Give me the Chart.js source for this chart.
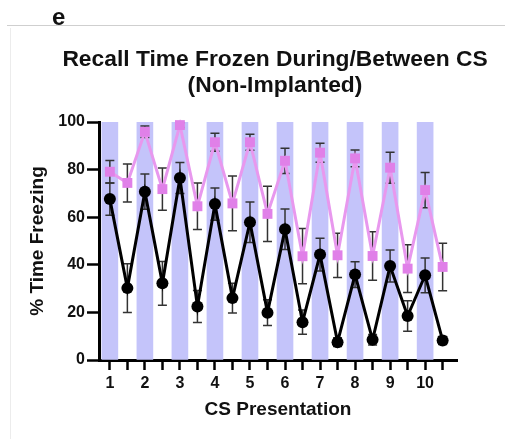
<!DOCTYPE html>
<html>
<head>
<meta charset="utf-8">
<script src="https://cdn.jsdelivr.net/npm/chart.js@4.4.1/dist/chart.umd.min.js"></script>
<style>
  html, body { margin: 0; padding: 0; background: #fff; }
  #wrap { position: relative; width: 505px; height: 439px; overflow: hidden; }
  #panel { position: absolute; left: 0; top: 0; }
  #tag { position: absolute; left: 52px; top: 5px; font: bold 24px "Liberation Sans", Arial, sans-serif; line-height: 24px; color: #111; }
  #title { position: absolute; left: 25px; width: 500px; top: 45px; text-align: center; white-space: nowrap;
           font: bold 22.8px "Liberation Sans", Arial, sans-serif; line-height: 26px; color: #111; }
  #rule { position: absolute; left: 7px; right: 0; top: 25px; height: 0; border-top: 1px solid #cfcfcf; }
  #edge { position: absolute; left: 10px; top: 28px; bottom: 0; width: 0; border-left: 1px solid #ececec; }
</style>
</head>
<body>
<div id="wrap">
  <canvas id="panel" width="505" height="439"></canvas>
  <div id="rule"></div>
  <div id="edge"></div>
  <div id="tag">e</div>
  <div id="title">Recall Time Frozen During/Between CS<br>(Non-Implanted)</div>
</div>
<script>
// ---- data ----
const timePoints = [1, 1.5, 2, 2.5, 3, 3.5, 4, 4.5, 5, 5.5, 6, 6.5, 7, 7.5, 8, 8.5, 9, 9.5, 10, 10.5];
const csPositions = [1, 2, 3, 4, 5, 6, 7, 8, 9, 10];
const csBarValues = [100, 100, 100, 100, 100, 100, 100, 100, 100, 100];
const tickLabels = ['1', '2', '3', '4', '5', '6', '7', '8', '9', '10'];
const yTicks = [0, 20, 40, 60, 80, 100];

const blackMean = [67.6, 30.2, 70.7, 32.2, 76.5, 22.5, 65.5, 26.0, 57.9, 19.9, 54.9, 15.9, 44.3, 7.5, 35.9, 8.5, 39.5, 18.5, 35.6, 8.2];
const blackSem  = [6.8, 10.2, 7.4, 9.2, 6.5, 6.7, 6.8, 6.3, 8.5, 5.4, 8.5, 5.1, 6.9, 1.8, 5.4, 2.2, 6.7, 6.4, 7.3, 1.7];
const pinkMean  = [79.1, 74.4, 95.9, 71.8, 98.7, 64.6, 91.5, 65.8, 91.5, 61.4, 83.7, 43.6, 87.1, 44.0, 84.7, 43.7, 80.8, 38.4, 71.4, 39.1];
const pinkSem   = [4.7, 8.0, 2.4, 8.9, 1.0, 9.8, 3.8, 11.5, 3.4, 11.6, 5.3, 11.6, 4.0, 9.3, 3.5, 10.2, 6.5, 10.0, 7.4, 10.0];

const FONT = '"Liberation Sans", Arial, sans-serif';

const barData = csPositions.map((x, i) => ({ x: x, y: csBarValues[i] }));
const blackData = timePoints.map((x, i) => ({ x: x, y: blackMean[i] }));
const pinkData = timePoints.map((x, i) => ({ x: x, y: pinkMean[i] }));

const errorBarPlugin = {
  id: 'errorBars',
  afterDatasetDraw(chart, args) {
    if (args.index !== 0) return; // right after the CS bars, beneath the lines
    const ctx = chart.ctx;
    const xs = chart.scales.x, ys = chart.scales.y;
    const groups = [[pinkMean, pinkSem], [blackMean, blackSem]];
    ctx.save();
    ctx.strokeStyle = '#333';
    ctx.lineWidth = 1.5;
    groups.forEach(([m, s]) => {
      timePoints.forEach((t, i) => {
        const px = xs.getPixelForValue(t);
        const top = ys.getPixelForValue(m[i] + s[i]);
        const bot = ys.getPixelForValue(m[i] - s[i]);
        ctx.beginPath();
        ctx.moveTo(px, top); ctx.lineTo(px, bot);
        ctx.moveTo(px - 4.5, top); ctx.lineTo(px + 4.5, top);
        ctx.moveTo(px - 4.5, bot); ctx.lineTo(px + 4.5, bot);
        ctx.stroke();
      });
    });
    ctx.restore();
  }
};

new Chart(document.getElementById('panel'), {
  type: 'line',
  data: {
    datasets: [
      {
        type: 'bar',
        data: barData,
        backgroundColor: 'rgb(196,196,250)',
        borderWidth: 0,
        barThickness: 16,
        order: 3
      },
      {
        type: 'line',
        data: pinkData,
        borderColor: 'rgb(232,152,238)',
        borderWidth: 3,
        pointStyle: 'rect',
        pointRadius: 7,
        pointBackgroundColor: 'rgb(224,128,232)',
        pointBorderColor: 'rgb(224,128,232)',
        pointBorderWidth: 0,
        tension: 0,
        clip: false,
        order: 1
      },
      {
        type: 'line',
        data: blackData,
        borderColor: '#000',
        borderWidth: 3,
        pointStyle: 'circle',
        pointRadius: 6,
        pointBackgroundColor: '#000',
        pointBorderColor: '#000',
        pointBorderWidth: 0,
        tension: 0,
        clip: false,
        order: 0
      }
    ]
  },
  options: {
    responsive: false,
    animation: false,
    devicePixelRatio: 1,
    layout: { padding: { left: 0, right: 48, top: 122, bottom: 0 } },
    plugins: {
      legend: { display: false },
      tooltip: { enabled: false },
      title: { display: false }
    },
    scales: {
      x: {
        type: 'linear',
        offset: false,
        min: 0.69,
        max: 10.91,
        afterFit(scale) { scale.height = 79; },
        afterBuildTicks(scale) {
          const t = [];
          csPositions.forEach(v => { t.push({ value: v }); t.push({ value: v + 0.5 }); });
          scale.ticks = t;
        },
        ticks: {
          autoSkip: false,
          maxRotation: 0,
          padding: 4,
          color: '#111',
          font: { family: FONT, size: 16, weight: 'bold' },
          callback(v) {
            const idx = csPositions.indexOf(v);
            return idx >= 0 ? tickLabels[idx] : '';
          }
        },
        grid: { display: true, offset: false, drawOnChartArea: false, drawTicks: true, tickLength: 10, tickWidth: 2.5, tickColor: '#000' },
        border: { display: true, width: 3, color: '#000' },
        title: {
          display: true,
          text: 'CS Presentation',
          color: '#111',
          font: { family: FONT, size: 19, weight: 'bold', lineHeight: 1.2 },
          padding: { top: 0, bottom: 17.6 }
        }
      },
      y: {
        type: 'linear',
        min: 0,
        max: 100,
        afterFit(scale) { scale.width = 99; },
        afterBuildTicks(scale) { scale.ticks = yTicks.map(v => ({ value: v })); },
        ticks: {
          padding: 2,
          color: '#111',
          font: { family: FONT, size: 16, weight: 'bold' }
        },
        grid: { display: true, drawOnChartArea: false, drawTicks: true, tickLength: 12, tickWidth: 2.5, tickColor: '#000' },
        border: { display: true, width: 3, color: '#000' },
        title: {
          display: true,
          text: '% Time Freezing',
          color: '#111',
          font: { family: FONT, size: 19, weight: 'bold', lineHeight: 1.2 },
          padding: { top: 26.6, bottom: 0 }
        }
      }
    }
  },
  plugins: [errorBarPlugin]
});
</script>
</body>
</html>
